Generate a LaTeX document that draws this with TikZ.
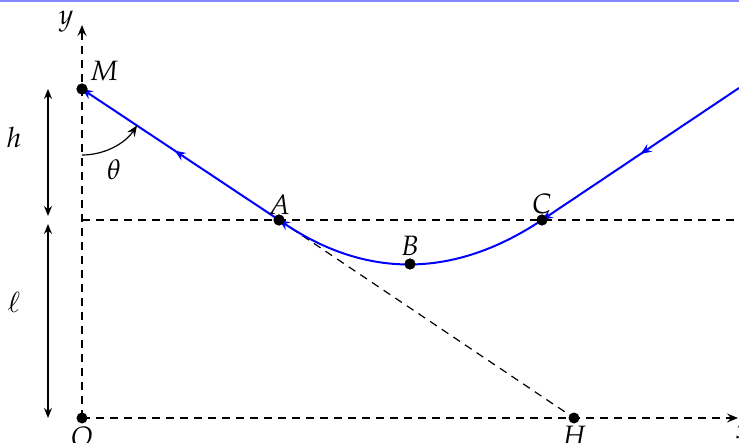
\documentclass[tikz,border=0pt]{standalone}
\usepackage{mathpazo}
\usetikzlibrary{arrows.meta,decorations.markings}
\definecolor{band}{RGB}{136,136,255}
\tikzset{
  dot/.style={circle,fill=black,inner sep=0pt,minimum size=5.5pt},
  axis/.style={dashed,dash pattern=on 4pt off 3pt,line width=0.6pt},
  guide/.style={dash pattern=on 4pt off 3pt,line width=0.6pt},
  traj/.style={blue,line width=1pt},
  tip/.style={-{Stealth[length=5.5pt,width=4.5pt,inset=2pt]}},
  midarrow/.style={postaction={decorate},decoration={markings,
      mark=at position #1 with {\arrow{Stealth[length=5.5pt,width=4.5pt,inset=2pt]}}}},
  dim/.style={line width=0.6pt,{Stealth[length=5pt,width=4pt,inset=1.7pt]}-{Stealth[length=5pt,width=4pt,inset=1.7pt]}},
  lab/.style={font=\fontsize{14}{16}\selectfont}
}
\begin{document}
\begin{tikzpicture}[x=0.5pt,y=-0.5pt]
\useasboundingbox (0,0) rectangle (739,443);
\fill[band] (0,0) rectangle (739,2.5);
% points
\coordinate (Oc) at (82,418);
\coordinate (yend) at (82,25);
\coordinate (xend) at (738,418);
\coordinate (L) at (82,220);
\coordinate (Lend) at (745,220);
\coordinate (Rin) at (739,88);
\coordinate (arcs) at (82,155);
% axes and guides
\draw[axis,tip] (Oc) -- (yend);
\draw[axis,tip] (Oc) -- (xend);
\draw[guide] (L) -- (Lend);
\node[dot] (O) at (82,418) {};
\node[dot] (M) at (82,89) {};
\node[dot] (A) at (279,220) {};
\node[dot] (B) at (410,264) {};
\node[dot] (C) at (542,220) {};
\node[dot] (H) at (574,418) {};
\draw[guide] (A.center) -- (H.center);
% trajectory
\draw[traj,tip,midarrow=0.5] (Rin) -- (C.center);
\draw[traj,tip] (C.center) .. controls (454,278.7) and (366.3,278.7) .. (A.center);
\draw[traj,tip,midarrow=0.53] (A.center) -- (M.center);
% redraw dots on top
\node[dot] at (M) {};
\node[dot] at (A) {};
\node[dot] at (B) {};
\node[dot] at (C) {};
% angle
\draw[line width=0.6pt,tip] (arcs) arc[start angle=90,end angle=33.6,radius=66];
% dimension arrows
\coordinate (h1) at (48,89);
\coordinate (h2) at (48,216);
\coordinate (l1) at (48,224);
\coordinate (l2) at (48,418);
\draw[dim] (h1) -- (h2);
\draw[dim] (l1) -- (l2);
% labels
\node[lab] (ly) at (66,22) {$y$};
\node[lab] (lM) at (104,71) {$M$};
\node[lab] (lA) at (279,205) {$A$};
\node[lab] (lB) at (410,246) {$B$};
\node[lab] (lC) at (542,204) {$C$};
\node[lab] (lH) at (574,436) {$H$};
\node[lab] (lO) at (82,437) {$O$};
\node[lab] (lx) at (743,432) {$x$};
\node[lab] (lh) at (14,137) {$h$};
\node[lab] (ll) at (14,302) {$\ell$};
\node[lab] (lt) at (114,170) {$\theta$};
\end{tikzpicture}
\end{document}
